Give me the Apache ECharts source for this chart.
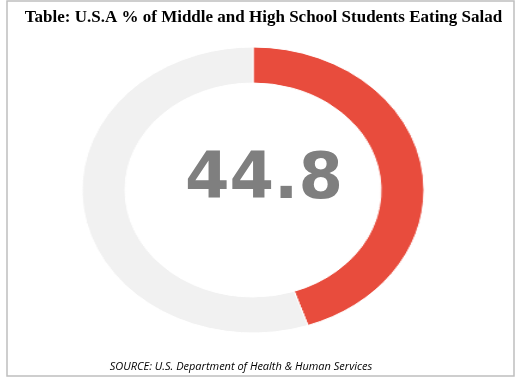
<!DOCTYPE html>
<html>
<head>
<meta charset="utf-8">
<script src="https://cdn.jsdelivr.net/npm/echarts@6/dist/echarts.min.js"></script>
<style>
html,body{margin:0;padding:0;background:#fff;}
#wrap{position:relative;width:522px;height:381px;overflow:hidden;}
#pie{position:absolute;left:103px;top:40px;width:300px;height:300px;transform:scaleX(1.196);transform-origin:150px 150px;}
#over{position:absolute;left:0;top:0;width:522px;height:381px;}
</style>
</head>
<body>
<div id="wrap">
<div id="pie"></div>
<div id="over"></div>
</div>
<script>
const titleText = "Table: U.S.A % of Middle and High School Students Eating Salad";
const sourceText = "SOURCE: U.S. Department of Health & Human Services";
const categories = ["Eating salad", "Not eating salad"];
const values = [44.8, 55.2];
const centerLabel = "44.8";

const pie = echarts.init(document.getElementById('pie'), null, {renderer: 'canvas'});
pie.setOption({
  animation: false,
  series: [{
    type: 'pie',
    center: ['50%', '50%'],
    radius: [107, 143],
    startAngle: 90,
    clockwise: true,
    silent: true,
    label: {show: false},
    labelLine: {show: false},
    itemStyle: {borderColor: '#ffffff', borderWidth: 1},
    data: categories.map((c, i) => ({
      name: c,
      value: values[i],
      itemStyle: {color: i === 0 ? '#E84C3D' : '#F1F1F1'}
    }))
  }]
});

const over = echarts.init(document.getElementById('over'), null, {renderer: 'canvas'});
over.setOption({
  animation: false,
  graphic: [
    {type: 'rect', shape: {x: 7, y: 1, width: 507, height: 375},
     style: {fill: 'none', stroke: '#BFBFBF', lineWidth: 1.5}, silent: true},
    {type: 'text', x: 263.5, y: 18,
     style: {text: titleText, font: 'bold 17px "Liberation Serif", serif', fill: '#000000', align: 'center', verticalAlign: 'middle'}},
    {type: 'text', x: 264, y: 181,
     style: {text: centerLabel, font: 'bold 64px "DejaVu Sans", sans-serif', fill: '#7F7F7F', align: 'center', verticalAlign: 'middle'}},
    {type: 'text', x: 241, y: 367,
     style: {text: sourceText, font: 'italic 11px "Open Sans", sans-serif', fill: '#000000', align: 'center', verticalAlign: 'middle'}}
  ]
});
</script>
</body>
</html>
